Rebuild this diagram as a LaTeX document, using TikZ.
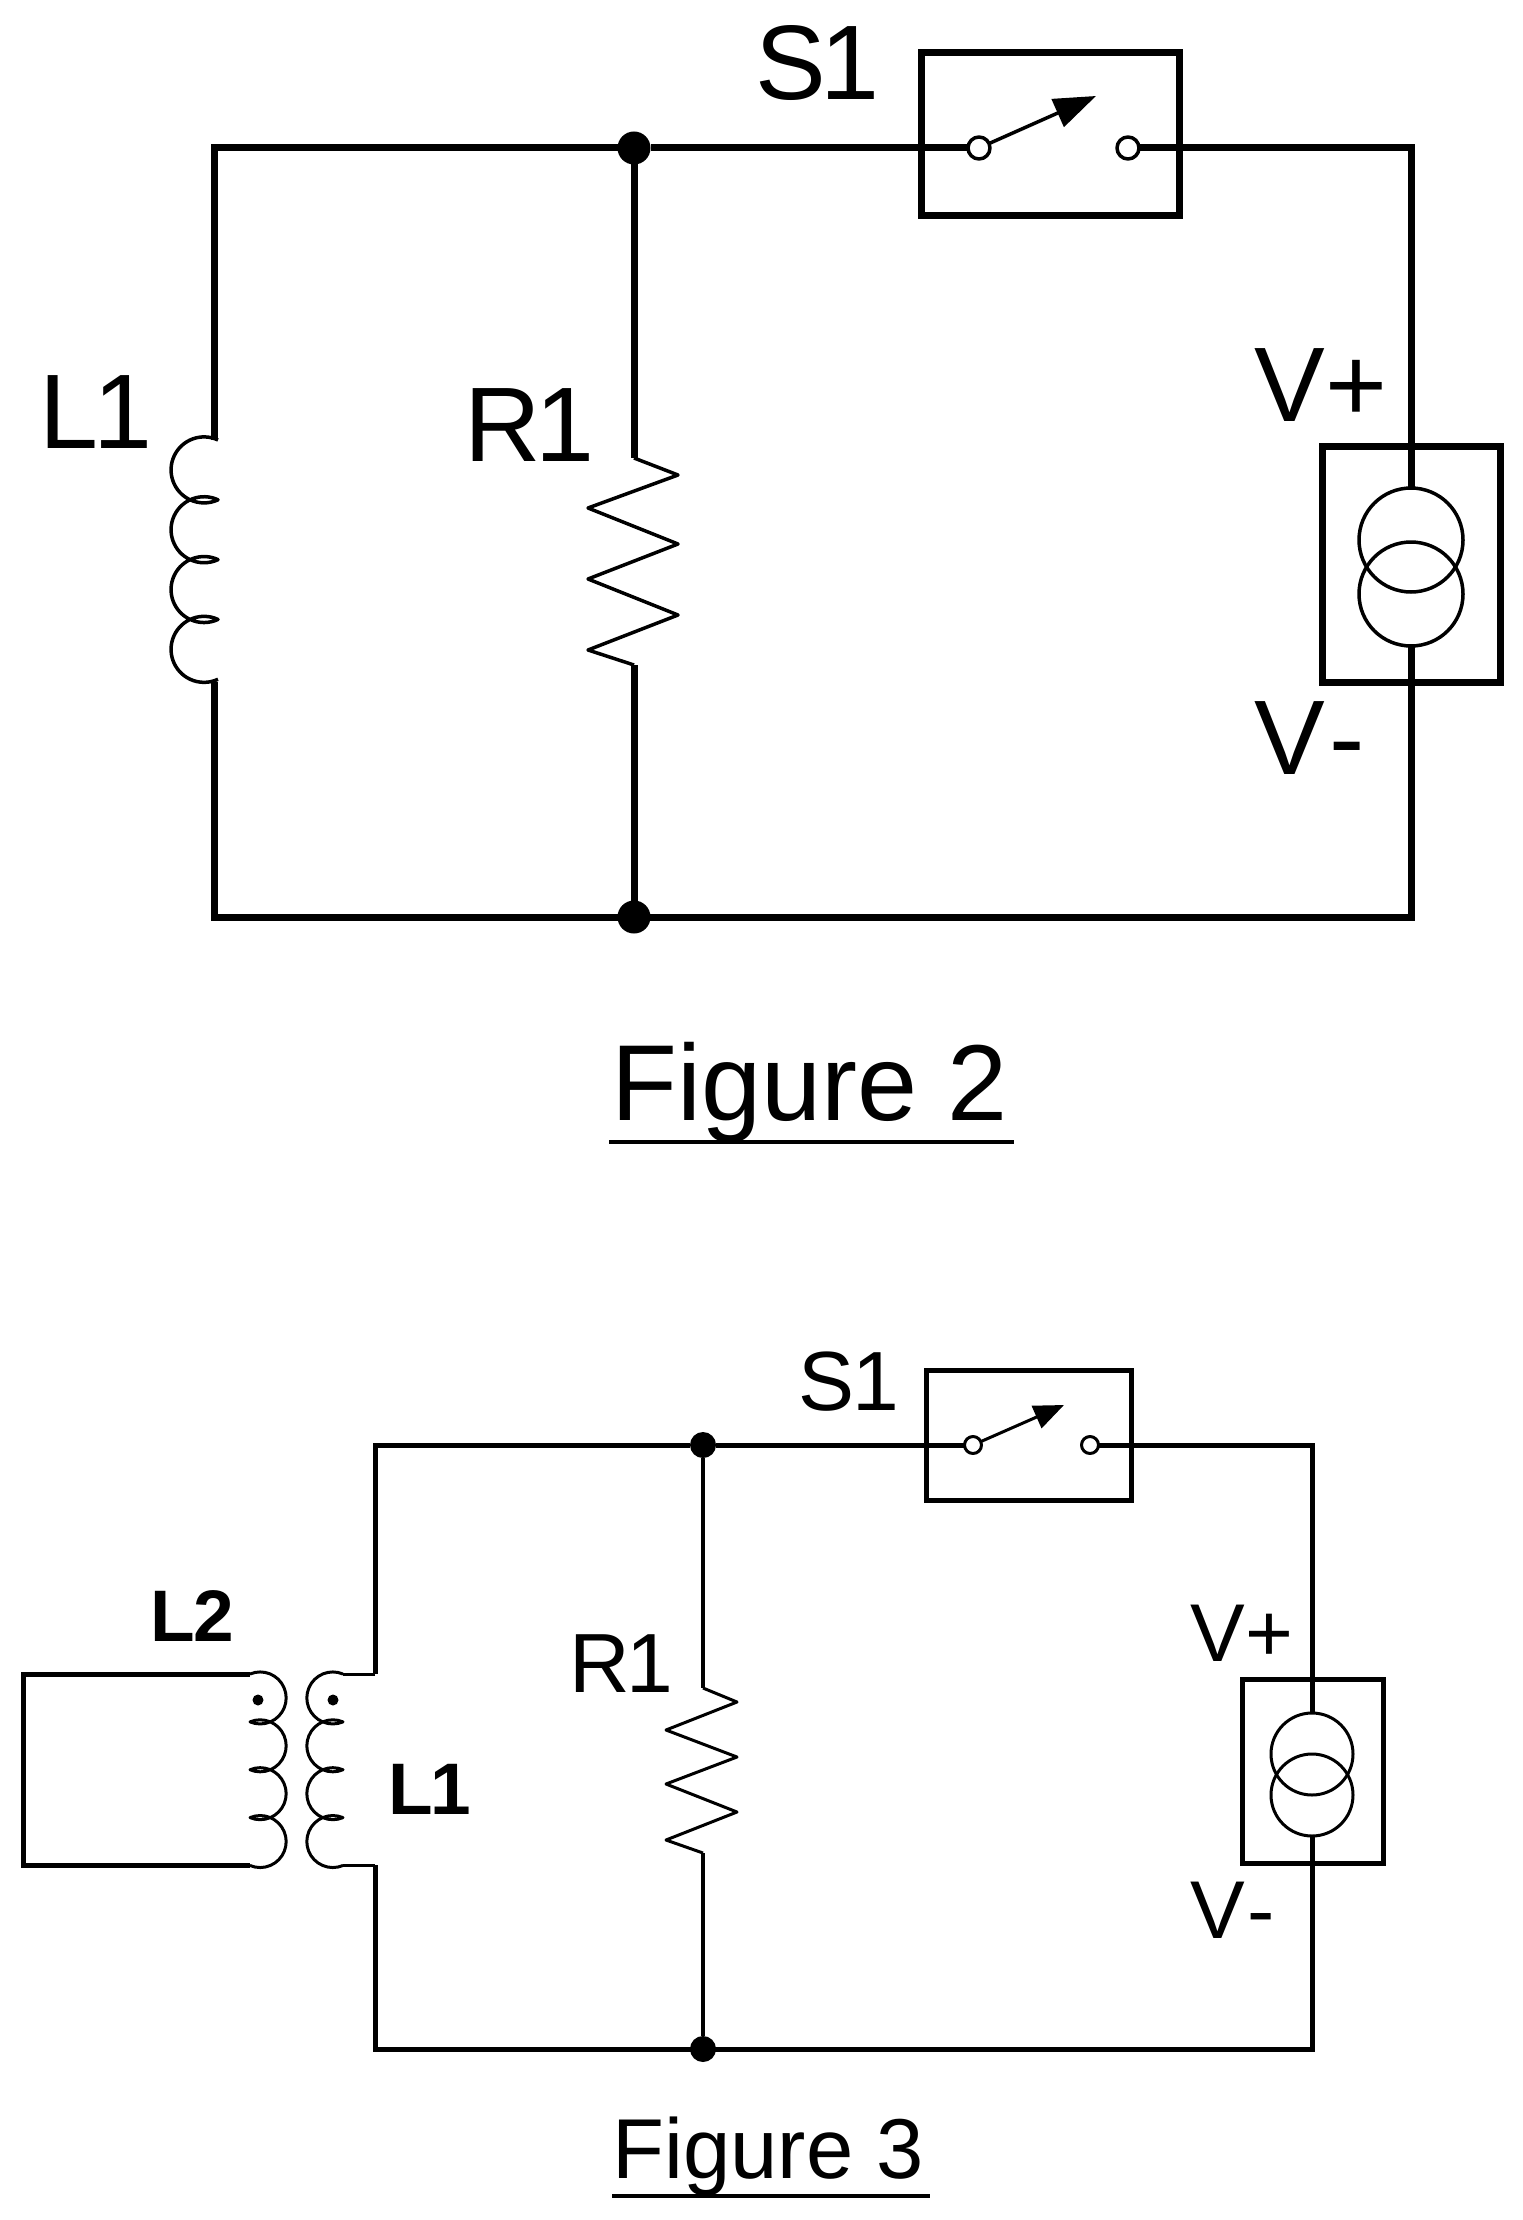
\documentclass[tikz,border=0pt]{standalone}
\usepackage{fontspec}
\setmainfont{Liberation Sans}
\usetikzlibrary{arrows.meta}

\begin{document}
\begin{tikzpicture}[x=0.5pt,y=-0.5pt,
wireA/.style={line width=3.5pt},
wireB/.style={line width=2.5pt},
wireC/.style={line width=2pt},
coilA/.style={line width=1.75pt,line join=round},
coilB/.style={line width=1.5pt,line join=round},
sysbox/.style={draw,rectangle,inner sep=0pt,outer sep=0pt},
junction/.style={circle,fill,inner sep=0pt,outer sep=0pt,minimum size=#1},
terminal/.style={circle,draw,fill=white,inner sep=0pt,outer sep=0pt,minimum size=#1},
srcring/.style={circle,draw,inner sep=0pt,outer sep=0pt,minimum size=#1},
lab/.style={font=\fontsize{#1}{#1}\selectfont,anchor=base west,inner sep=0pt},
blab/.style={font=\fontsize{#1}{#1}\selectfont\bfseries,anchor=base west,inner sep=0pt}]

\useasboundingbox (0,0) rectangle (1522,2220);

% Figure 2
\draw (634,148) node[junction=16.5pt] (topA) {};
\draw (634,917) node[junction=16.5pt] (botA) {};
\draw (1050,134.5) node[sysbox,wireA,minimum width=129pt,minimum height=81.5pt] (swboxA) {};
\draw (979,148) node[terminal=11pt,coilA] (swinA) {};
\draw (1128,148) node[terminal=11pt,coilA] (swoutA) {};
\draw (1411,564) node[sysbox,wireA,minimum width=89pt,minimum height=118pt] (srcA) {};
\draw (1411,540) node[srcring=52pt,coilA] (ringAa) {};
\draw (1411,594) node[srcring=52pt,coilA] (ringAb) {};
\coordinate (tlA) at (214,148);
\coordinate (blA) at (214,917);
\coordinate (trA) at (1411,148);
\coordinate (brA) at (1411,917);
\coordinate (LtopA) at (214,440);
\coordinate (LbotA) at (214,682);
\coordinate (RtopA) at (634,458);
\coordinate (RbotA) at (634,665);
\coordinate (tipA) at (1096,96);

\draw[wireA] (LtopA) -- (tlA) -- (topA) -- (swinA);
\draw[wireA] (swoutA) -- (trA) -- (ringAa);
\draw[wireA] (ringAb) -- (brA) -- (blA) -- (LbotA);
\draw[wireA] (topA) -- (RtopA);
\draw[wireA] (RbotA) -- (botA);
\draw[coilA] (218,440) \foreach \i in {1,2,3,4} {arc[start angle=295,end angle=65,radius=33]};
\draw[coilA] (RtopA) -- (678,475) -- (588,508) -- (678,544) -- (588,579) -- (678,615) -- (588,650) -- (RbotA);
\draw[coilA,-{Triangle[length=21pt,width=15pt]}] (swinA) -- (tipA);

\node[lab=53] (LoneA) at (39,448) {L\kern-2.5pt 1};
\node[lab=53] (RoneA) at (464,461) {R\kern-2.5pt 1};
\node[lab=53] (SoneA) at (755,100) {S\kern-3pt 1};
\node[lab=53] (VpA) at (1254,421) {V+};
\node[lab=53] (VmA) at (1254,774) {V\kern2pt -};
\node[lab=54] (capA) at (611,1120) {Figure 2};
\coordinate (ulaA) at (609,1142);
\coordinate (ulbA) at (1014,1142);
\draw[wireC] (ulaA) -- (ulbA);

% Figure 3
\draw (703,1445) node[junction=13pt] (topB) {};
\draw (703,2049) node[junction=13pt] (botB) {};
\draw (1028.5,1435) node[sysbox,wireB,minimum width=102.5pt,minimum height=65pt] (swboxB) {};
\draw (973,1445) node[terminal=8.5pt,coilB] (swinB) {};
\draw (1090,1445) node[terminal=8.5pt,coilB] (swoutB) {};
\draw (1312.5,1771) node[sysbox,wireB,minimum width=70.5pt,minimum height=92pt] (srcB) {};
\draw (1312,1754) node[srcring=41pt,coilB] (ringBa) {};
\draw (1312,1795) node[srcring=41pt,coilB] (ringBb) {};
\draw (258,1700) node[junction=5.5pt] (dotLtwo) {};
\draw (333,1700) node[junction=5.5pt] (dotLone) {};
\coordinate (tlB) at (375,1445);
\coordinate (blB) at (375,2049);
\coordinate (trB) at (1312,1445);
\coordinate (brB) at (1312,2049);
\coordinate (LtopB) at (375,1674);
\coordinate (LbotB) at (375,1865);
\coordinate (LcoilA) at (343,1674);
\coordinate (LcoilB) at (343,1865);
\coordinate (MtopB) at (250,1674);
\coordinate (MbotB) at (250,1865);
\coordinate (MtlB) at (23,1674);
\coordinate (MblB) at (23,1865);
\coordinate (RtopB) at (703,1688);
\coordinate (RbotB) at (703,1853);
\coordinate (tipB) at (1064,1405);

\draw[wireB] (LtopB) -- (tlB) -- (topB) -- (swinB);
\draw[wireB] (swoutB) -- (trB) -- (ringBa);
\draw[wireB] (ringBb) -- (brB) -- (blB) -- (LbotB);
\draw[wireC] (topB) -- (RtopB);
\draw[wireC] (RbotB) -- (botB);
\draw[coilB] (LtopB) -- (LcoilA);
\draw[coilB] (LbotB) -- (LcoilB);
\draw[wireB] (MtopB) -- (MtlB) -- (MblB) -- (MbotB);
\draw[coilB] (343,1674) \foreach \i in {1,2,3,4} {arc[start angle=293,end angle=67,radius=26]};
\draw[coilB] (250,1674) \foreach \i in {1,2,3,4} {arc[start angle=-113,end angle=113,radius=26]};
\draw[coilB] (RtopB) -- (737,1702) -- (666,1730) -- (737,1757) -- (666,1784) -- (737,1812) -- (666,1840) -- (RbotB);
\draw[coilB,-{Triangle[length=15pt,width=12pt]}] (swinB) -- (tipB);

\node[blab=36.5] (LtwoB) at (150,1641) {L\kern-1pt 2};
\node[blab=36.5] (LoneB) at (388,1814) {L\kern-1.5pt 1};
\node[lab=42] (RoneB) at (569,1692) {R\kern-2pt 1};
\node[lab=42] (SoneB) at (798,1410) {S\kern-1pt 1};
\node[lab=41] (VpB) at (1190,1661) {V+};
\node[lab=41] (VmB) at (1190,1938) {V\kern1pt -};
\node[lab=42.5] (capB) at (612,2178) {Figure 3};
\coordinate (ulaB) at (612,2196);
\coordinate (ulbB) at (930,2196);
\draw[wireC] (ulaB) -- (ulbB);
\end{tikzpicture}
\end{document}
